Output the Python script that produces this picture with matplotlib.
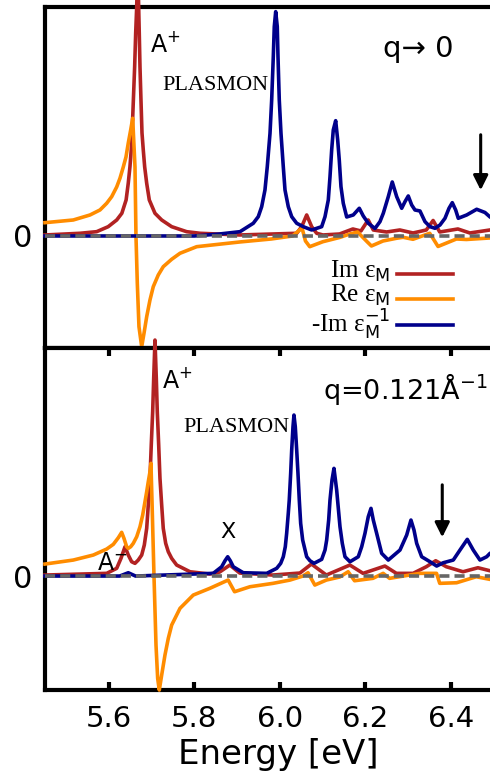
import matplotlib
matplotlib.use('Agg')
import matplotlib.pyplot as plt

plt.rcParams['mathtext.fontset'] = 'custom'
plt.rcParams['mathtext.rm'] = 'Liberation Serif'
plt.rcParams['mathtext.sf'] = 'DejaVu Sans'
plt.rcParams['mathtext.it'] = 'DejaVu Sans:italic'

# ---- panel 1 : q -> 0 ----
e_q0_im = [5.45, 5.532, 5.571, 5.598, 5.618, 5.630, 5.640, 5.645, 5.649, 5.652, 5.654, 5.657,
           5.660, 5.6624, 5.6648, 5.6671, 5.6694, 5.6708, 5.6725, 5.6748, 5.6772, 5.6802, 5.6835, 5.6882,
           5.6943, 5.7076, 5.7233, 5.7467, 5.7818, 5.813, 5.906, 6.0395, 6.0512, 6.0629, 6.0746, 6.0863,
           6.101, 6.140, 6.171, 6.190, 6.207, 6.2189, 6.250, 6.281, 6.312, 6.343, 6.359, 6.3745,
           6.417, 6.445, 6.492, 6.51]
im_q0 = [0.01, 0.027, 0.043, 0.093, 0.16, 0.227, 0.36, 0.527, 0.693, 0.86, 1.027, 1.36,
         1.693, 2.027, 2.29, 2.7, 2.29, 2.03, 1.69, 1.36, 1.03, 0.86, 0.69, 0.527,
         0.36, 0.227, 0.16, 0.093, 0.043, 0.027, 0.01, 0.027, 0.093, 0.21, 0.093, 0.027,
         0.01, 0.02, 0.07, 0.05, 0.16, 0.06, 0.04, 0.06, 0.03, 0.06, 0.155, 0.04,
         0.07, 0.03, 0.06, 0.06]

e_q0_re = [5.45, 5.5163, 5.5554, 5.5788, 5.5945, 5.6062, 5.6179, 5.6256, 5.6334, 5.6397, 5.6451, 5.6507,
           5.6554, 5.6608, 5.6631, 5.6662, 5.6701, 5.6765, 5.6819, 5.6882, 5.6959, 5.7036, 5.7153, 5.7270,
           5.7467, 5.7662, 5.8053, 5.906, 5.98, 6.03, 6.052, 6.060, 6.070, 6.101, 6.140, 6.164,
           6.182, 6.205, 6.2145, 6.2417, 6.2731, 6.2886, 6.3119, 6.351, 6.361, 6.3705, 6.4136, 6.437,
           6.4916, 6.51]
re_q0 = [0.133, 0.16, 0.21, 0.26, 0.327, 0.393, 0.49, 0.577, 0.69, 0.79, 0.93, 1.06,
         1.177, 0.69, 0.0, -0.47, -0.907, -1.107, -0.973, -0.807, -0.64, -0.507, -0.39, -0.307,
         -0.233, -0.173, -0.107, -0.06, -0.03, 0.0, 0.08, -0.05, -0.107, -0.057, -0.015, 0.02,
         0.04, -0.06, -0.10, -0.05, -0.023, -0.013, -0.033, 0.027, -0.04, -0.105, -0.03, -0.035,
         -0.02, -0.02]

e_q0_loss = [5.45, 5.80, 5.859, 5.9067, 5.9378, 5.9495, 5.9575, 5.9652, 5.9706, 5.9770, 5.9809, 5.9847,
             5.9870, 5.9903, 5.9940, 5.9957, 5.9987, 6.0027, 6.0081, 6.0121, 6.0198, 6.0278, 6.0395, 6.0549,
             6.0746, 6.0980, 6.1058, 6.1135, 6.1175, 6.1214, 6.1252, 6.1308, 6.1355, 6.1392, 6.1432, 6.1486,
             6.1566, 6.1720, 6.1861, 6.1954, 6.2071, 6.2228, 6.2345, 6.2423, 6.2540, 6.2633, 6.2737, 6.2854,
             6.2931, 6.3008, 6.3088, 6.3165, 6.3282, 6.3400, 6.3517, 6.3634, 6.3751, 6.3868, 6.3962, 6.4039,
             6.4118, 6.4179, 6.4376, 6.4610, 6.4804, 6.4922, 6.51]
loss_q0 = [0.0, 0.0, 0.02, 0.043, 0.127, 0.193, 0.293, 0.46, 0.693, 1.027, 1.36, 1.793,
           2.093, 2.243, 2.093, 1.793, 1.36, 1.027, 0.693, 0.46, 0.293, 0.193, 0.127, 0.093,
           0.06, 0.093, 0.193, 0.36, 0.593, 0.86, 1.06, 1.153, 0.96, 0.76, 0.493, 0.327,
           0.19, 0.21, 0.277, 0.2, 0.127, 0.075, 0.143, 0.227, 0.393, 0.54, 0.393, 0.277,
           0.343, 0.40, 0.31, 0.26, 0.25, 0.143, 0.093, 0.077, 0.11, 0.177, 0.277, 0.333,
           0.26, 0.177, 0.21, 0.267, 0.235, 0.19, 0.15]

# ---- panel 2 : q = 0.121 1/A ----
e_q1_im = [5.45, 5.5945, 5.6179, 5.6280, 5.6374, 5.6451, 5.6530, 5.6608, 5.6685, 5.6765, 5.6826, 5.6882,
           5.6919, 5.6959, 5.6989, 5.7022, 5.7046, 5.7076, 5.7107, 5.7130, 5.7163, 5.7193, 5.7233, 5.7270,
           5.7327, 5.7388, 5.7467, 5.7584, 5.7896, 5.836, 5.859, 5.883, 5.906, 5.983, 6.047, 6.074,
           6.109, 6.164, 6.195, 6.246, 6.273, 6.312, 6.343, 6.365, 6.390, 6.429, 6.464, 6.492,
           6.51]
im_q1 = [0.01, 0.027, 0.077, 0.177, 0.293, 0.21, 0.143, 0.127, 0.16, 0.21, 0.31, 0.477,
         0.71, 0.977, 1.31, 1.643, 1.977, 2.36, 1.977, 1.643, 1.31, 0.977, 0.71, 0.477,
         0.327, 0.243, 0.177, 0.11, 0.043, 0.02, 0.04, 0.11, 0.03, 0.01, 0.03, 0.12,
         0.01, 0.11, 0.027, 0.10, 0.027, 0.027, 0.093, 0.153, 0.093, 0.043, 0.083, 0.053,
         0.05]

e_q1_re = [5.45, 5.5163, 5.5631, 5.5945, 5.6100, 5.6217, 5.6296, 5.6350, 5.6413, 5.6451, 5.6507, 5.6568,
           5.6648, 5.6725, 5.6788, 5.6842, 5.6882, 5.6919, 5.6959, 5.6982, 5.7013, 5.7053, 5.7100, 5.7139,
           5.7177, 5.7233, 5.7310, 5.7388, 5.7467, 5.7662, 5.7973, 5.836, 5.879, 5.894, 5.930, 5.984,
           6.024, 6.054, 6.066, 6.082, 6.109, 6.140, 6.160, 6.175, 6.218, 6.242, 6.257, 6.328,
           6.367, 6.3745, 6.414, 6.460, 6.492, 6.51]
re_q1 = [0.12, 0.16, 0.21, 0.27, 0.317, 0.383, 0.437, 0.377, 0.293, 0.277, 0.293, 0.327,
         0.393, 0.493, 0.61, 0.743, 0.843, 0.943, 1.043, 1.127, 0.643, 0.0, -0.69, -1.023,
         -1.14, -0.99, -0.79, -0.623, -0.49, -0.323, -0.19, -0.123, -0.04, -0.157, -0.107, -0.073,
         -0.04, 0.0, 0.033, -0.09, -0.04, -0.01, 0.043, -0.047, -0.023, 0.027, -0.023, 0.027,
         0.027, -0.073, -0.067, -0.007, -0.033, -0.03]

e_q1_loss = [5.45, 5.625, 5.6451, 5.662, 5.8441, 5.8638, 5.8716, 5.8779, 5.8840, 5.8910, 5.9144, 5.9692,
             5.9926, 6.0020, 6.0081, 6.0128, 6.0160, 6.0198, 6.0221, 6.0254, 6.0278, 6.0308, 6.0331, 6.0362,
             6.0395, 6.0425, 6.0456, 6.0488, 6.0535, 6.0629, 6.0706, 6.0800, 6.0980, 6.1058, 6.1097, 6.1144,
             6.1175, 6.1222, 6.1268, 6.1331, 6.1409, 6.1463, 6.1526, 6.1643, 6.1837, 6.1917, 6.1994, 6.2071,
             6.2135, 6.2189, 6.2268, 6.2385, 6.2540, 6.2814, 6.2971, 6.3071, 6.3142, 6.3205, 6.3322, 6.3517,
             6.3673, 6.3828, 6.4062, 6.4219, 6.4390, 6.4530, 6.4687, 6.4844, 6.4922, 6.51]
loss_q1 = [0.0, 0.0, 0.033, 0.0, 0.027, 0.093, 0.153, 0.193, 0.153, 0.093, 0.033, 0.027,
           0.077, 0.127, 0.193, 0.293, 0.427, 0.627, 0.76, 1.027, 1.26, 1.493, 1.61, 1.493,
           1.26, 1.027, 0.76, 0.527, 0.36, 0.193, 0.153, 0.127, 0.167, 0.26, 0.36, 0.56,
           0.76, 0.96, 1.077, 0.86, 0.493, 0.327, 0.193, 0.143, 0.193, 0.293, 0.427, 0.593,
           0.677, 0.56, 0.427, 0.227, 0.16, 0.26, 0.41, 0.56, 0.46, 0.327, 0.193, 0.143,
           0.1, 0.133, 0.16, 0.26, 0.367, 0.26, 0.16, 0.193, 0.227, 0.26]

xticks = [5.6, 5.8, 6.0, 6.2, 6.4]
xtick_labels = ['5.6', '5.8', '6.0', '6.2', '6.4']

c_im = '#b22222'
c_re = '#ff8c00'
c_loss = '#00008b'
c_zero = '#666666'
lw = 2.6

fig = plt.figure(figsize=(4.9, 7.82), dpi=100)
ax1 = fig.add_axes([0.0918, 0.5550, 0.9237, 0.4361])
ax2 = fig.add_axes([0.0918, 0.1176, 0.9237, 0.4373])

panels = [
    (ax1, e_q0_im, im_q0, e_q0_re, re_q0, e_q0_loss, loss_q0, (-1.12, 2.29)),
    (ax2, e_q1_im, im_q1, e_q1_re, re_q1, e_q1_loss, loss_q1, (-1.14, 2.28)),
]
for ax, ei, im, er, re, el, loss, ylim in panels:
    ax.plot(ei, im, color=c_im, lw=lw, clip_on=False, zorder=3, solid_joinstyle='round')
    ax.plot(er, re, color=c_re, lw=lw, clip_on=False, zorder=3, solid_joinstyle='round')
    ax.plot(el, loss, color=c_loss, lw=lw, clip_on=False, zorder=4, solid_joinstyle='round')
    ax.axhline(0, color=c_zero, lw=2.6, dashes=(2.8, 1.4), zorder=5)
    ax.set_xlim(5.45, 6.51)
    ax.set_ylim(*ylim)
    for s in ax.spines.values():
        s.set_linewidth(3)
    ax.spines['right'].set_visible(False)
    ax.set_yticks([0])
    ax.set_yticklabels(['0'])
    ax.tick_params(axis='y', length=0, pad=9, labelsize=22)

ax1.set_xticks(xticks)
ax1.tick_params(axis='x', bottom=False, labelbottom=False)
ax2.set_xticks(xticks)
ax2.set_xticklabels(xtick_labels)
ax2.tick_params(axis='x', direction='in', top=True, length=6, width=3, labelsize=21, pad=11)
ax2.set_xlabel('Energy [eV]', fontsize=24.5)
ax2.xaxis.set_label_coords(0.515, -0.14)

# annotations
ax1.text(5.6959, 1.84, r'A$^{\mathsf{+}}$', fontsize=17, va='baseline')
ax1.text(5.724, 1.46, 'PLASMON', fontsize=16, family='Liberation Serif', va='baseline')
ax1.text(6.2416, 1.79, 'q\u2192 0', fontsize=21, va='baseline')
ax1.annotate('', xy=(6.4704, 0.43), xytext=(6.4704, 1.04),
             arrowprops=dict(arrowstyle='-|>', color='black', lw=2.2, mutation_scale=22))

ax2.text(5.724, 1.88, r'A$^{\mathsf{+}}$', fontsize=17, va='baseline')
ax2.text(5.7732, 1.44, 'PLASMON', fontsize=16, family='Liberation Serif', va='baseline')
ax2.text(6.101, 1.77, r'q=0.121Å$^{\mathsf{-1}}$', fontsize=19.5, va='baseline')
ax2.text(5.8786, 0.38, 'X', fontsize=16, ha='center', va='baseline')
ax2.text(5.5718, 0.06, r'A$^{\mathsf{-}}$', fontsize=17, va='baseline')
ax2.annotate('', xy=(6.3804, 0.36), xytext=(6.3804, 0.94),
             arrowprops=dict(arrowstyle='-|>', color='black', lw=2.2, mutation_scale=22))

# legend (text left of the line sample)
labels = [r'Im ε$_{\mathsf{M}}$', r'Re ε$_{\mathsf{M}}$', r'-Im ε$_{\mathsf{M}}^{\mathsf{-1}}$']
colors = [c_im, c_re, c_loss]
rows_line = [0.217, 0.144, 0.067]
rows_text = [0.207, 0.136, 0.045]
for lab, col, yl, yt in zip(labels, colors, rows_line, rows_text):
    ax1.text(0.762, yt, lab, transform=ax1.transAxes, ha='right', va='baseline',
             fontsize=18, family='Liberation Serif')
    ax1.plot([0.777, 0.901], [yl, yl], transform=ax1.transAxes, color=col, lw=lw)

plt.savefig('out.png', dpi=100)
